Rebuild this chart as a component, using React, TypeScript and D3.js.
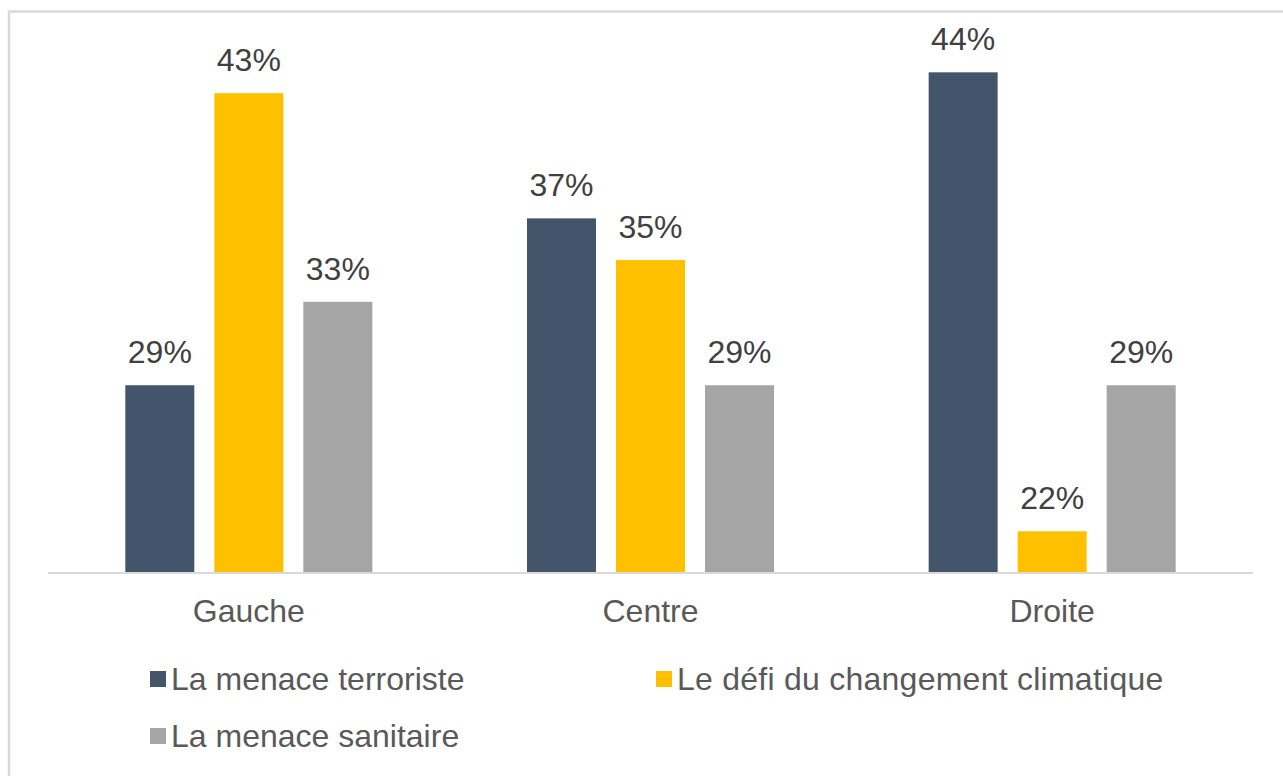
import React from "react";
import * as d3 from "d3";

const categories = ["Gauche", "Centre", "Droite"];
const seriesNames = ["La menace terroriste", "Le défi du changement climatique", "La menace sanitaire"];
const terroriste = [29, 37, 44];
const climat = [43, 35, 22];
const sanitaire = [33, 29, 29];
const seriesValues = [terroriste, climat, sanitaire];
const colors = ["#44546a", "#ffc000", "#a5a5a5"];

const W = 1283;
const H = 776;
const FONT = "'Liberation Sans', Arial, Helvetica, sans-serif";

export default function App() {
  const x0 = d3.scaleBand<string>().domain(categories).range([48, 1253]).paddingInner(0.385).paddingOuter(0.1925);
  const x1 = d3.scaleBand<string>().domain(seriesNames).range([0, x0.bandwidth()]).paddingInner(0.225).paddingOuter(0);
  const y = d3.scaleLinear().domain([20, 46]).range([573, 30.6]);

  const legendItems = [
    { name: seriesNames[0], color: colors[0], x: 150, y: 679, ls: 0 },
    { name: seriesNames[1], color: colors[1], x: 656, y: 679, ls: 0.25 },
    { name: seriesNames[2], color: colors[2], x: 150, y: 736, ls: 0 },
  ];

  return (
    <svg width={W} height={H} style={{ position: "absolute", left: 0, top: 0, background: "#fff" }} fontFamily={FONT}>
      <rect x={9} y={11.5} width={1400} height={900} fill="none" stroke="#d9d9d9" strokeWidth={2.5} />
      {categories.map((c, ci) => (
        <g key={c} transform={`translate(${x0(c)},0)`}>
          {seriesNames.map((s, si) => {
            const v = seriesValues[si][ci];
            const bx = x1(s)!;
            return (
              <g key={s}>
                <rect x={bx} y={y(v)} width={x1.bandwidth()} height={y(20) - y(v)} fill={colors[si]} />
                <text x={bx + x1.bandwidth() / 2} y={y(v) - 22} textAnchor="middle" fontSize={32} fill="#404040">
                  {v}%
                </text>
              </g>
            );
          })}
          <text x={x0.bandwidth() / 2} y={622} textAnchor="middle" fontSize={32} fill="#595959">
            {c}
          </text>
        </g>
      ))}
      <line x1={48} x2={1253} y1={573} y2={573} stroke="#d9d9d9" strokeWidth={2} />
      {legendItems.map((l) => (
        <g key={l.name}>
          <rect x={l.x} y={l.y - 8} width={16} height={16} fill={l.color} />
          <text x={l.x + 21} y={l.y + 11} fontSize={32} letterSpacing={l.ls} fill="#595959">
            {l.name}
          </text>
        </g>
      ))}
    </svg>
  );
}
